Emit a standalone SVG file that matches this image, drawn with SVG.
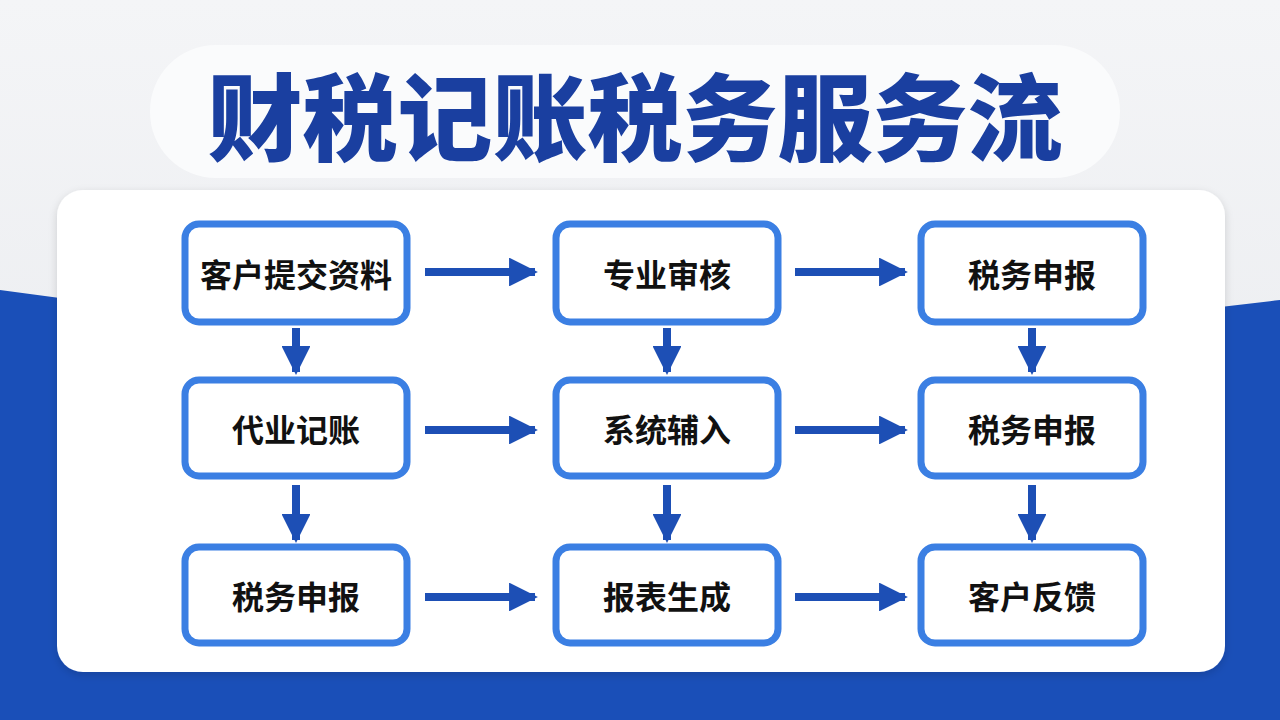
<svg xmlns="http://www.w3.org/2000/svg" width="1280" height="720" viewBox="0 0 1280 720">
<defs>
<linearGradient id="bg" x1="0" y1="0" x2="0" y2="1"><stop offset="0" stop-color="#f4f5f7"/><stop offset="1" stop-color="#e6e8ec"/></linearGradient>
<marker id="ah" viewBox="0 0 10 10" refX="9" refY="5" markerWidth="3.6" markerHeight="3.6" orient="auto" markerUnits="strokeWidth"><path d="M0,0 L10,5 L0,10 Z" fill="#1d4fb5"/></marker>
<filter id="sh" x="-5%" y="-5%" width="110%" height="115%"><feDropShadow dx="0" dy="3" stdDeviation="4" flood-opacity="0.15"/></filter>
</defs>
<style>
.node rect{fill:#fff;stroke:#3b7fe3;stroke-width:7}
.node text{font-family:"Noto Sans CJK SC",sans-serif;font-weight:700;font-size:32px;fill:#111;text-anchor:middle;dominant-baseline:central}
.conn line{stroke:#1d4fb5;stroke-width:8;marker-end:url(#ah)}
</style>
<rect width="1280" height="720" fill="url(#bg)"/>
<path d="M0,290 Q640,380 1280,300 L1280,720 L0,720 Z" fill="#1a4fb8"/>
<rect x="150" y="45" width="970" height="133" rx="66" fill="#fafbfc"/>
<text x="635" y="112" font-family="Noto Sans CJK SC,sans-serif" font-weight="900" font-size="95" fill="#1a3fa0" text-anchor="middle" dominant-baseline="central">财税记账税务服务流</text>
<rect x="57" y="190" width="1168" height="482" rx="26" fill="#fff" filter="url(#sh)"/>
<g class="conn">
<line x1="425" y1="272" x2="535" y2="272"/><line x1="795" y1="272" x2="905" y2="272"/>
<line x1="425" y1="430" x2="535" y2="430"/><line x1="795" y1="430" x2="905" y2="430"/>
<line x1="425" y1="597" x2="535" y2="597"/><line x1="795" y1="597" x2="905" y2="597"/>
<line x1="296" y1="328" x2="296" y2="372"/><line x1="667" y1="328" x2="667" y2="372"/><line x1="1032" y1="328" x2="1032" y2="372"/>
<line x1="296" y1="485" x2="296" y2="540"/><line x1="667" y1="485" x2="667" y2="540"/><line x1="1032" y1="485" x2="1032" y2="540"/>
</g>
<g id="n1" class="node"><rect x="185" y="224" width="222" height="98" rx="14"/><text x="296" y="273">客户提交资料</text></g>
<g id="n2" class="node"><rect x="556" y="224" width="222" height="98" rx="14"/><text x="667" y="273">专业审核</text></g>
<g id="n3" class="node"><rect x="921" y="224" width="222" height="98" rx="14"/><text x="1032" y="273">税务申报</text></g>
<g id="n4" class="node"><rect x="185" y="380" width="222" height="96" rx="14"/><text x="296" y="428">代业记账</text></g>
<g id="n5" class="node"><rect x="556" y="380" width="222" height="96" rx="14"/><text x="667" y="428">系统辅入</text></g>
<g id="n6" class="node"><rect x="921" y="380" width="222" height="96" rx="14"/><text x="1032" y="428">税务申报</text></g>
<g id="n7" class="node"><rect x="185" y="547" width="222" height="96" rx="14"/><text x="296" y="595">税务申报</text></g>
<g id="n8" class="node"><rect x="556" y="547" width="222" height="96" rx="14"/><text x="667" y="595">报表生成</text></g>
<g id="n9" class="node"><rect x="921" y="547" width="222" height="96" rx="14"/><text x="1032" y="595">客户反馈</text></g>
</svg>
